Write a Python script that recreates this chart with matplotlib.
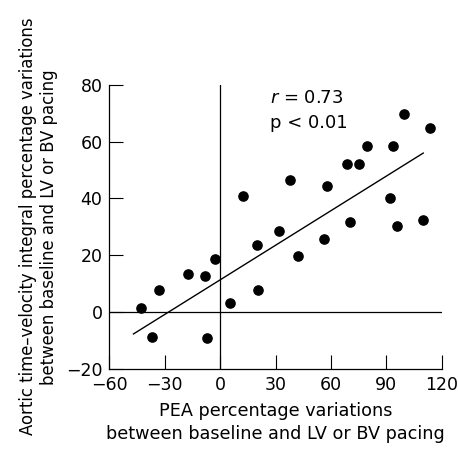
import numpy as np
import matplotlib.pyplot as plt

# PEA percentage variation (x) vs aortic VTI percentage variation (y)
pea = np.array([-43.1, -37.1, -33.0, -17.4, -8.2, -7.0, -2.6, 5.3, 12.5, 20.1,
                20.6, 31.8, 37.8, 42.3, 56.2, 58.0, 70.3, 68.9, 75.4, 79.7,
                92.0, 93.4, 95.6, 99.6, 110.0, 113.6])
vti = np.array([1.4, -8.8, 7.6, 13.5, 12.6, -9.1, 18.7, 3.3, 40.9, 23.6,
                7.6, 28.4, 46.4, 19.8, 25.7, 44.4, 31.7, 52.0, 52.0, 58.4,
                40.3, 58.4, 30.1, 69.7, 32.4, 64.7])

# regression line as printed
slope, intercept = 0.406, 11.3
t = np.array([-47.0, 110.0])

fig = plt.figure(figsize=(4.58, 4.49), dpi=100)
ax = fig.add_axes([0.239, 0.179, 0.7254, 0.632])

ax.axvline(0, color='black', lw=0.9)
ax.axhline(0, color='black', lw=0.9)
ax.plot(t, slope*t + intercept, color='black', lw=1.0)
ax.scatter(pea, vti, s=44, color='black', zorder=3)

ax.set_xlim(-60, 120)
ax.set_ylim(-20, 80)
ax.set_xticks(np.arange(-60, 121, 30))
ax.set_yticks(np.arange(-20, 81, 20))
ax.set_xticklabels(['\u221260', '\u221230', '0', '30', '60', '90', '120'])
ax.set_yticklabels(['\u221220', '0', '20', '40', '60', '80'])
ax.tick_params(direction='in', length=10, width=0.8, labelsize=12.5, pad=5)
for s in ['top', 'right']:
    ax.spines[s].set_visible(False)
for s in ['left', 'bottom']:
    ax.spines[s].set_linewidth(0.9)

ax.text(27, 75.5, '$r$ = 0.73', fontsize=13, va='center')
ax.text(27, 66.7, 'p < 0.01', fontsize=13, va='center')

ax.set_xlabel('PEA percentage variations\nbetween baseline and LV or BV pacing',
              fontsize=12.7, labelpad=6, linespacing=1.35)
ax.set_ylabel('Aortic time\u2013velocity integral percentage variations\nbetween baseline and LV or BV pacing',
              fontsize=11.9, labelpad=6, linespacing=1.2)

fig.savefig('out.png', dpi=100)
